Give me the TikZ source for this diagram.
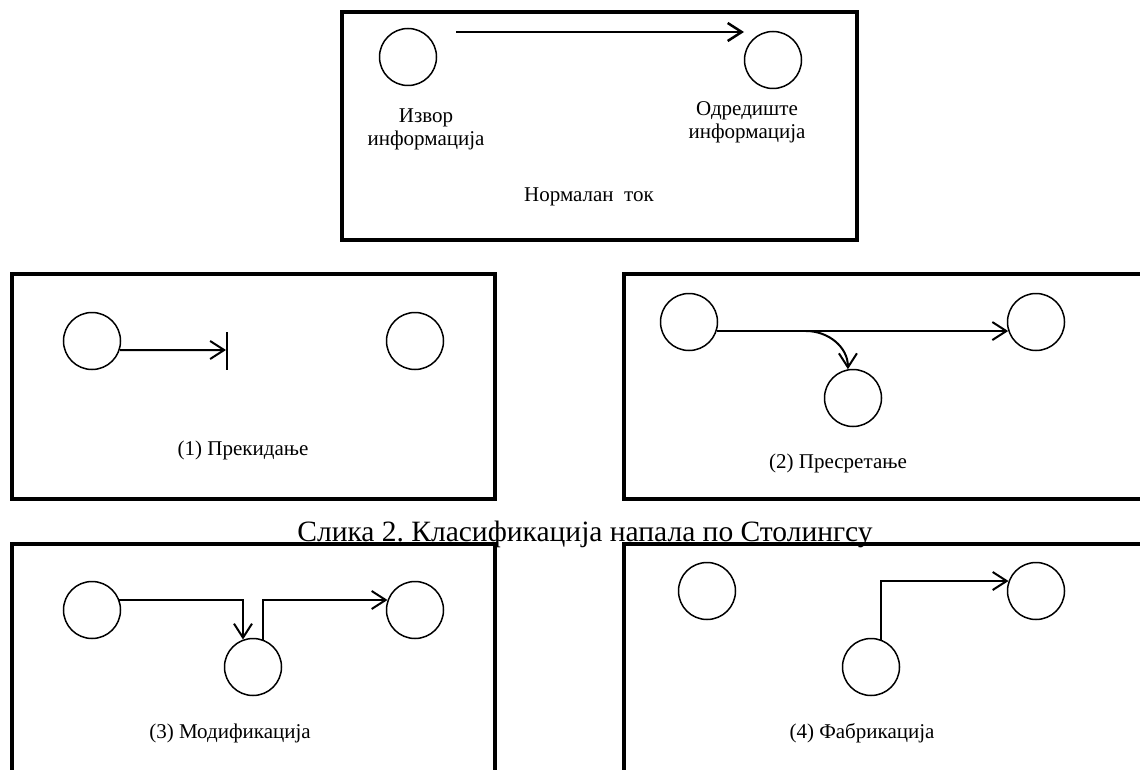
\documentclass[tikz,border=0pt]{standalone}
\usepackage{fontspec}
\setmainfont{Liberation Serif}
\usetikzlibrary{arrows.meta}
\frenchspacing
\begin{document}
\begin{tikzpicture}[x=1pt,y=-1pt,
  frame/.style={line width=4.5pt},
  ring/.style={circle, draw, line width=1.5pt, minimum size=57pt, inner sep=0pt},
  arr/.style={line width=2pt, -{Straight Barb[length=14pt,width=18pt]}},
  lbl/.style={font=\fontsize{21}{23}\selectfont, align=center, inner sep=0pt},
  captionstyle/.style={font=\fontsize{29.5}{32}\selectfont, inner sep=0pt, anchor=base}]
\useasboundingbox (0,0) rectangle (1140,770);

% frames
\draw[frame] (342,12) rectangle (857,240);
\draw[frame] (12,274) rectangle (495,499);
\draw[frame] (624,274) rectangle (1170,499);
\draw[frame] (12,544) rectangle (495,800);
\draw[frame] (624,544) rectangle (1170,800);

% normal flow
\node[ring] (src) at (408,57) {};
\node[ring] (dst) at (773,60) {};
\coordinate (s0) at (456,32);
\coordinate (e0) at (744,32);
\draw[arr, line width=2.5pt] (s0) -- (e0);
\node[lbl] (srcl) at (426,129) {Извор\\информација};
\node[lbl] (dstl) at (747,122) {Одредиште\\информација};
\node[lbl] (normal) at (589,197) {Нормалан\ \ ток};

% (1) interruption
\node[ring] (a1) at (92,341) {};
\node[ring] (a2) at (415,341) {};
\coordinate (stop1) at (226,350);
\coordinate (bart) at (227,332);
\coordinate (barb) at (227,370);
\draw[arr] (a1.-18) -- (stop1);
\draw[line width=2pt] (bart) -- (barb);
\node[lbl] (t1) at (243,450) {(1) Прекидање};

% (2) interception
\node[ring] (b1) at (689,322) {};
\node[ring] (b2) at (1036,322) {};
\node[ring] (b3) at (853,398) {};
\coordinate (split2) at (806,331);
\draw[arr] (b1.-18) -- (b2.198);
\draw[arr] (split2) to[out=0,in=90] (b3.100);
\node[lbl] (t2) at (838,463) {(2) Пресретање};

% (3) modification
\node[ring] (c1) at (92,610) {};
\node[ring] (c2) at (415,610) {};
\node[ring] (c3) at (253,667) {};
\draw[arr] (c1.20) -| (c3.110);
\draw[arr] (c3.70) |- (c2.160);
\node[lbl] (t3) at (230,733) {(3) Модификација};

% (4) fabrication
\node[ring] (d1) at (707,591) {};
\node[ring] (d2) at (1036,591) {};
\node[ring] (d3) at (871,667) {};
\draw[arr] (d3.70) |- (d2.160);
\node[lbl] (t4) at (862,733) {(4) Фабрикација};

% caption
\node[captionstyle] (caption) at (585,541) {Слика 2. Класификација напала по Столингсу};
\end{tikzpicture}
\end{document}
